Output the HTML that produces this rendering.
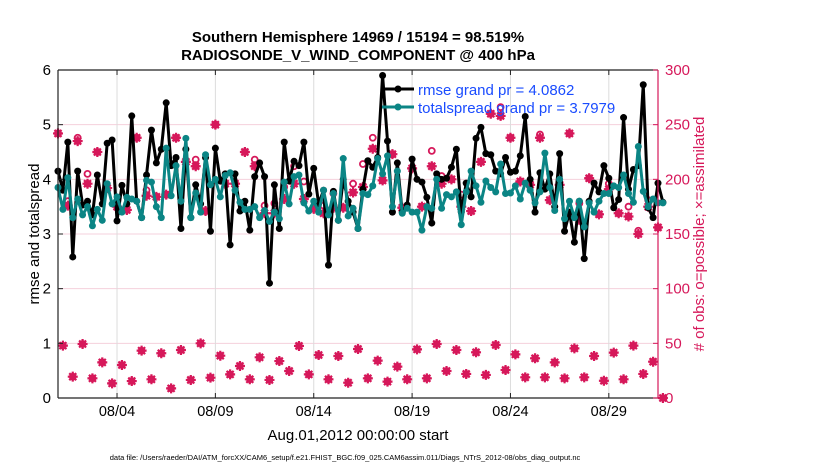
<!DOCTYPE html>
<html><head><meta charset="utf-8"><style>
body{margin:0;background:#fff;}
svg{display:block;font-family:"Liberation Sans",sans-serif;}
</style></head><body>
<svg id="chart" width="830" height="470" viewBox="0 0 830 470">
<text x="358" y="42" text-anchor="middle" font-size="15" font-weight="bold">Southern Hemisphere 14969 / 15194 = 98.519%</text>
<text x="358" y="60" text-anchor="middle" font-size="15" font-weight="bold">RADIOSONDE_V_WIND_COMPONENT @ 400 hPa</text>
<g id="grid"></g>
<g id="obs"></g>
<g id="series"></g>
<g id="axes"></g>
<text transform="translate(39,234) rotate(-90)" text-anchor="middle" font-size="15">rmse and totalspread</text>
<text transform="translate(704,234) rotate(-90)" text-anchor="middle" font-size="15" fill="#d6185a"># of obs: o=possible; ×=assimilated</text>
<text x="358" y="440" text-anchor="middle" font-size="15">Aug.01,2012 00:00:00 start</text>
<text x="345" y="460" text-anchor="middle" font-size="7.5">data file: /Users/raeder/DAI/ATM_forcXX/CAM6_setup/f.e21.FHIST_BGC.f09_025.CAM6assim.011/Diags_NTrS_2012-08/obs_diag_output.nc</text>
<g>
<line x1="382" y1="89" x2="414" y2="89" stroke="#000" stroke-width="3"/>
<circle cx="398" cy="89" r="3.5" fill="#000"/>
<text x="418" y="95" font-size="15" fill="#1a4cff">rmse grand pr = 4.0862</text>
<line x1="382" y1="107" x2="414" y2="107" stroke="#0b8585" stroke-width="3"/>
<circle cx="398" cy="107" r="3.5" fill="#0b8585"/>
<text x="418" y="113" font-size="15" fill="#1a4cff">totalspread grand pr = 3.7979</text>
</g>
</svg>
<script>
const rmse=[4.15,3.8,4.68,2.58,4.15,3.53,3.6,3.35,4.08,3.55,4.66,4.72,3.24,3.89,3.55,5.16,3.6,3.3,4.08,4.9,4.3,4.55,5.4,4.25,4.4,3.1,4.55,3.3,3.9,3.55,4.4,3.05,
4.57,3.97,4.1,2.8,4.1,3.42,3.6,3.07,4.05,4.3,4.05,2.1,3.9,3.1,4.68,3.97,4.33,4.25,4.68,3.73,4.2,3.55,3.8,2.43,3.78,3.25,4.0,3.6,3.4,3.1,
3.82,4.34,4.22,4.4,5.9,4.7,3.4,4.3,3.4,3.53,4.37,4.0,3.95,3.67,3.2,4.1,4.0,4.02,4.22,4.55,3.4,3.93,3.68,4.75,4.95,4.47,4.45,4.15,4.1,4.4,4.13,
4.15,4.43,5.15,4.0,3.4,4.12,3.82,4.1,3.5,4.47,3.05,3.4,2.85,3.6,2.55,3.6,3.93,3.77,4.25,4.02,3.48,3.63,5.13,3.82,4.18,4.25,5.73,3.48,3.3,3.93,3.58];
const spread=[3.85,3.45,4.03,3.3,3.64,3.35,3.5,3.15,3.45,3.25,3.92,3.55,3.68,3.4,3.67,3.64,3.6,3.3,3.98,3.95,3.5,3.3,4.57,3.7,4.25,3.6,4.75,3.3,3.75,3.4,4.45,3.9,
4.0,3.68,4.07,4.12,3.8,3.58,3.45,3.45,3.5,3.3,3.43,3.23,3.4,3.28,3.95,3.55,4.05,4.08,3.57,3.42,3.6,3.4,3.8,3.35,3.74,3.25,4.38,3.33,3.47,3.1,
3.74,3.72,3.88,4.38,4.1,4.43,3.5,4.15,3.38,3.47,3.4,3.4,3.07,3.5,3.47,4.0,3.47,3.72,3.68,3.77,3.17,3.77,4.15,3.88,3.58,3.97,3.85,3.77,4.28,3.74,3.75,
3.88,3.64,3.93,3.8,3.57,3.77,4.48,3.85,3.43,4.0,3.28,3.6,3.3,3.6,3.13,3.57,3.4,3.6,3.74,3.74,3.88,3.85,4.08,3.74,3.58,4.6,3.78,3.5,3.64,3.57,3.57];
// obs counts at 00Z/12Z (even indices)
const highUsed=[242,176,235,196,225,192,175,172,238,185,184,186,238,216,212,171,250,196,196,225,212,169,169,182,196,182,173,169,174,174,188,193,228,199,223,174,210,175,212,196,200,175,171,216,260,258,238,198,195,238,181,195,242,163,201,168,191,169,166,150,175,156];
const highPoss=[242,180,238,205,225,192,175,172,238,190,184,186,238,216,218,171,250,196,196,225,218,176,178,193,212,198,173,176,187,174,196,214,238,199,223,174,210,175,226,203,200,186,171,216,260,266,238,198,195,241,181,195,242,178,201,168,196,169,175,153,181,156];
// obs counts at 06Z/18Z (odd indices)
const lowUsed=[47.9,19.5,49.4,18.0,32.6,13.4,30.2,15.5,43.3,17.1,40.9,8.8,43.9,16.5,50,18.6,38.7,21.6,29.3,17.1,37.2,16.5,33.8,24.7,47.6,21.6,39.3,17.1,38.4,14.0,44.8,18.0,34.2,15.0,28.7,17.1,44.5,18.0,49.4,24.7,43.9,22.0,41.8,21.1,48.5,25.6,39.9,18.9,36.3,18.9,32.6,18.0,45.4,18.9,38.4,15.8,41.5,17.1,47.9,22.0,33.2,0];
const xTicks=[3,8,13,18,23,28];
const xTickLabels=["08/04","08/09","08/14","08/19","08/24","08/29"];
const yTicks=[0,1,2,3,4,5,6];
const y2Ticks=[0,50,100,150,200,250,300];

const NS="http://www.w3.org/2000/svg";
const X0=58,X1=658,Y0=398,Y1=70;
const sx=d=>X0+(d/30.5)*(X1-X0);
const sy=v=>Y0-(v/6)*(Y0-Y1);
const sy2=v=>Y0-(v/300)*(Y0-Y1);
const tIdx=i=>i*0.25;
function mk(tag,attrs,parent){const e=document.createElementNS(NS,tag);for(const k in attrs)e.setAttribute(k,attrs[k]);parent.appendChild(e);return e;}
const grid=document.getElementById('grid'),axes=document.getElementById('axes'),obs=document.getElementById('obs'),ser=document.getElementById('series');

yTicks.forEach(v=>{const l=mk('line',{x1:X0,x2:X1,y1:sy(v),y2:sy(v),stroke:'#f5d0dc','stroke-width':1},grid);

});
xTicks.forEach(d=>{const l=mk('line',{x1:sx(d),x2:sx(d),y1:Y1,y2:Y0,stroke:'#dcdcdc','stroke-width':1},grid);

});

function star(cx,cy,g){const s=5;
 mk('circle',{cx:cx,cy:cy,r:3.8,fill:'#d6185a'},g);
 mk('path',{d:`M${cx-s} ${cy}H${cx+s}M${cx} ${cy-s}V${cy+s}M${cx-3.5} ${cy-3.5}L${cx+3.5} ${cy+3.5}M${cx-3.5} ${cy+3.5}L${cx+3.5} ${cy-3.5}`,stroke:'#d6185a','stroke-width':2.2},g);}
highUsed.forEach((v,k)=>{const i=2*k;const g=mk('g',{},obs);


 mk('circle',{cx:sx(tIdx(i)),cy:sy2(highPoss[k]),r:3,fill:'none',stroke:'#d6185a','stroke-width':1.8},g);
 star(sx(tIdx(i)),sy2(v),g);});
lowUsed.forEach((v,k)=>{const i=2*k+1;const g=mk('g',{},obs);


 star(sx(tIdx(i)),sy2(v),g);});

function series(arr,color,name){
 const pts=arr.map((v,i)=>sx(tIdx(i))+','+sy(v)).join(' ');
 const pl=mk('polyline',{points:pts,fill:'none',stroke:color,'stroke-width':3,'stroke-linejoin':'round'},ser);
 
 
 arr.forEach((v,i)=>{const c=mk('circle',{cx:sx(tIdx(i)),cy:sy(v),r:3.5,fill:color},ser);
 
 });}
series(rmse,'#000','rmse');
series(spread,'#0b8585','totalspread');

mk('line',{x1:X0,x2:X1,y1:Y1,y2:Y1,stroke:'#222','stroke-width':1.2},axes);
mk('line',{x1:X0,x2:X1,y1:Y0,y2:Y0,stroke:'#222','stroke-width':1.2},axes);
mk('line',{x1:X0,x2:X0,y1:Y1,y2:Y0,stroke:'#222','stroke-width':1.2},axes);
mk('line',{x1:X1,x2:X1,y1:Y1,y2:Y0,stroke:'#d6185a','stroke-width':1.2},axes);
yTicks.forEach(v=>{mk('line',{x1:X0,x2:X0+5,y1:sy(v),y2:sy(v),stroke:'#222'},axes);
 const t=mk('text',{x:X0-7,y:sy(v)+5,'text-anchor':'end','font-size':15},axes);t.textContent=v;
 
 });
y2Ticks.forEach(v=>{mk('line',{x1:X1-5,x2:X1,y1:sy2(v),y2:sy2(v),stroke:'#d6185a'},axes);
 const t=mk('text',{x:X1+7,y:sy2(v)+5,'font-size':15,fill:'#d6185a'},axes);t.textContent=v;
 
 });
xTicks.forEach((d,i)=>{mk('line',{x1:sx(d),x2:sx(d),y1:Y0,y2:Y0-5,stroke:'#222'},axes);
 mk('line',{x1:sx(d),x2:sx(d),y1:Y1,y2:Y1+5,stroke:'#222'},axes);
 const t=mk('text',{x:sx(d),y:416,'text-anchor':'middle','font-size':14.5},axes);t.textContent=xTickLabels[i];
 
 });
</script>
</body></html>
